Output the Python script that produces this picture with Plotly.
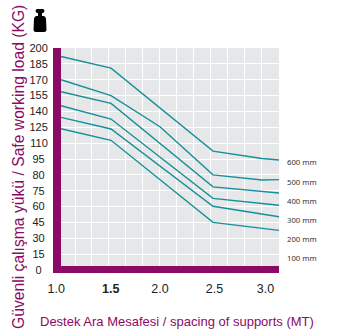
import numpy as np
import plotly.graph_objects as go

W, H = 339, 336
PURPLE = "#8a0a66"
TEAL = "#14909a"
GRAY = "#e6e7e8"

y_labels = [0, 15, 30, 45, 60, 75, 80, 95, 110, 125, 140, 155, 170, 185, 200]
x_ticks = [1.0, 1.5, 2.0, 2.5, 3.0]
x_tick_text = ["1.0\u00a0", "\u00a0<b>1.5</b>", "2.0", "\u00a0\u00a02.5", "\u00a0\u00a03.0"]

series_names = ["600 mm", "500 mm", "400 mm", "300 mm", "200 mm", "100 mm"]

spans_600 = [1.03, 1.52, 2.52, 3.0, 3.167]
load_600 = [192, 181, 102.5, 95.5, 94]
spans_500 = [1.03, 1.52, 2.0, 2.52, 3.0, 3.167]
load_500 = [170, 155, 125.5, 80, 78.4, 78.5]
spans_rest = [1.03, 1.52, 2.52, 3.167]
load_400 = [158.6, 147.6, 76.2, 72.8]
load_300 = [145.4, 132.8, 67.8, 61.2]
load_200 = [134.4, 123.4, 60.3, 50.4]
load_100 = [123.6, 112.7, 45.1, 37.5]

series = [
    (spans_600, load_600), (spans_500, load_500), (spans_rest, load_400),
    (spans_rest, load_300), (spans_rest, load_200), (spans_rest, load_100),
]
label_y_px = [162, 182, 201, 220, 239, 258]


def rung(v):
    """The printed load scale is uneven (75 -> 80 takes one full rung)."""
    return np.interp(v, y_labels, np.arange(len(y_labels)))


def px(x):
    return x / W


def py(y):
    return 1 - y / H


fig = go.Figure()
for (xs, ys), name in zip(series, series_names):
    fig.add_trace(go.Scatter(x=xs, y=rung(ys), mode="lines", name=name,
                             line=dict(color=TEAL, width=1.4),
                             cliponaxis=True, showlegend=False))

annotations = [
    dict(text=n, x=px(285), y=py(yy), xref="paper", yref="paper", xanchor="left",
         yanchor="middle", showarrow=False,
         font=dict(family="Noto Sans", size=7.7, color="#333333"))
    for n, yy in zip(series_names, label_y_px)
]
annotations += [
    dict(text="Destek Ara Mesafesi / spacing of supports (MT)", x=px(177), y=py(321),
         xref="paper", yref="paper", showarrow=False, xanchor="center", yanchor="middle",
         font=dict(family="Liberation Sans", size=13, color=PURPLE)),
    dict(text="Güvenli çalışma yükü / Safe working load (KG)", x=px(18), y=py(167),
         xref="paper", yref="paper", showarrow=False, xanchor="center", yanchor="middle",
         textangle=-90, font=dict(family="Liberation Sans", size=15.7, color=PURPLE)),
]

shapes = [
    # weight icon: body
    dict(type="path", xref="paper", yref="paper", fillcolor="#000000", line_width=0,
         path=f"M {px(36)} {py(16)} L {px(44)} {py(16)} Q {px(46)} {py(17)} {px(46)} {py(19)} "
              f"L {px(46.5)} {py(30)} Q {px(46.5)} {py(32)} {px(44)} {py(32)} L {px(36)} {py(32)} "
              f"Q {px(33.5)} {py(32)} {px(33.5)} {py(30)} L {px(34)} {py(19)} "
              f"Q {px(34)} {py(17)} {px(36)} {py(16)} Z"),
    # weight icon: neck and head
    dict(type="rect", xref="paper", yref="paper", fillcolor="#000000", line_width=0,
         x0=px(38), x1=px(42), y0=py(16), y1=py(12)),
    dict(type="path", xref="paper", yref="paper", fillcolor="#000000", line_width=0,
         path=f"M {px(36.5)} {py(9)} L {px(43.5)} {py(9)} L {px(44.5)} {py(11)} "
              f"L {px(43.5)} {py(13)} L {px(36.5)} {py(13)} L {px(35.5)} {py(11)} Z"),
    # purple frame corner
    dict(type="rect", xref="paper", yref="paper", fillcolor=PURPLE, line_width=0,
         x0=px(53), x1=px(61), y0=py(48), y1=py(273)),
    dict(type="rect", xref="paper", yref="paper", fillcolor=PURPLE, line_width=0,
         x0=px(53), x1=px(279), y0=py(266), y1=py(273)),
]

fig.update_layout(
    width=W, height=H, autosize=False, showlegend=False,
    paper_bgcolor="white", plot_bgcolor=GRAY,
    margin=dict(l=0, r=0, t=0, b=0, autoexpand=False),
    annotations=annotations, shapes=shapes,
    xaxis=dict(domain=[px(58), px(279)], range=[1.0, 3.167],
               tickmode="array", tickvals=x_ticks, ticktext=x_tick_text,
               showgrid=True, gridcolor="white", gridwidth=1.2, zeroline=False,
               ticks="outside", ticklen=7, tickcolor="rgba(0,0,0,0)",
               minor=dict(tick0=1, dtick=1 / 6, showgrid=True, gridcolor="white", gridwidth=1.2),
               tickfont=dict(family="Liberation Sans", size=12.5, color="#222222")),
    yaxis=dict(domain=[py(270), py(48)], range=[0, 14.0],
               tickmode="array", tickvals=list(range(len(y_labels))),
               ticktext=[str(v) + "\u00a0" * (3 - len(str(v))) for v in y_labels],
               showgrid=True, gridcolor="white", gridwidth=1.2, zeroline=False,
               ticks="outside", ticklen=7, tickcolor="rgba(0,0,0,0)",
               tickfont=dict(family="Liberation Sans", size=11, color="#222222")),
)

fig.write_html("out.html", config={"displayModeBar": False},
               post_script="document.body.style.margin='0';document.documentElement.style.overflow='hidden';")
